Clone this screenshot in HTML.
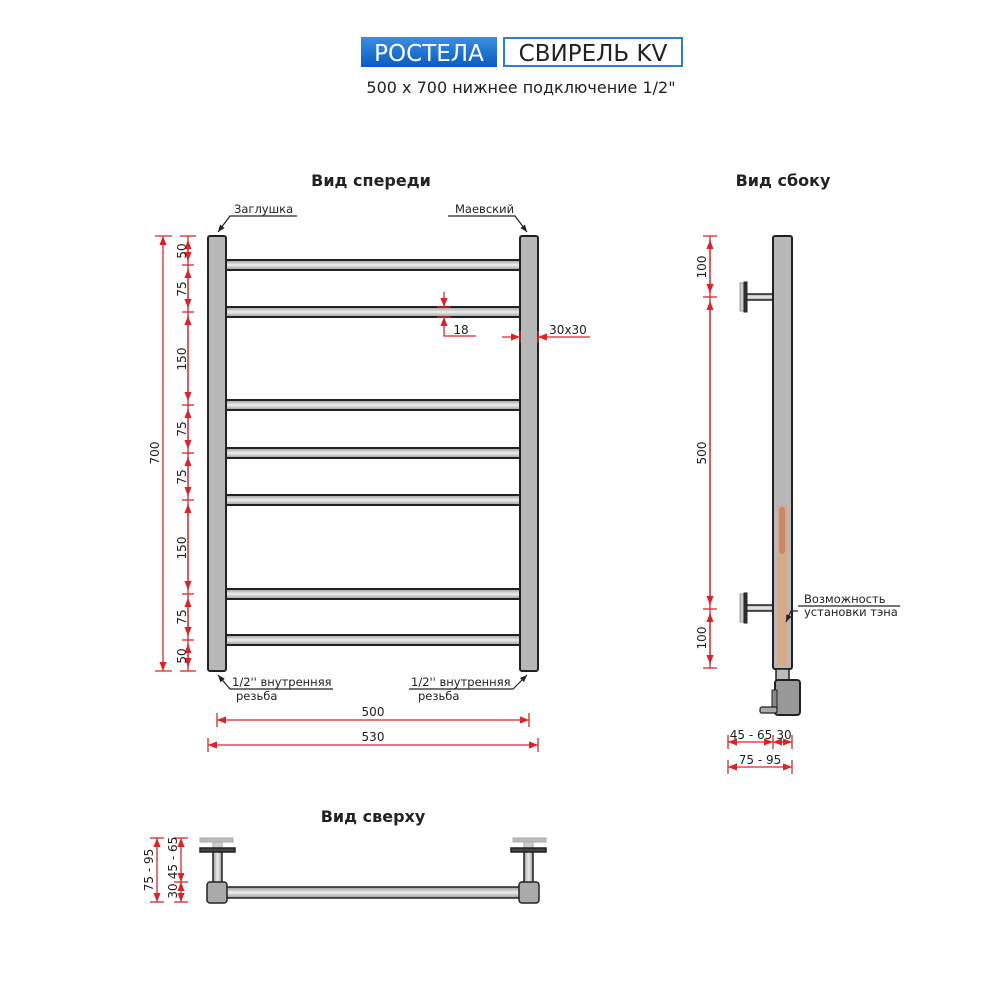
<!DOCTYPE html>
<html><head><meta charset="utf-8"><style>
html,body{margin:0;padding:0;background:#fff;}
svg{display:block;}
text{font-family:"DejaVu Sans","Liberation Sans",sans-serif;}
</style></head><body>
<svg width="1000" height="1000" viewBox="0 0 1000 1000" xmlns="http://www.w3.org/2000/svg">
<defs>
<linearGradient id="bl" x1="0" y1="0" x2="0" y2="1"><stop offset="0" stop-color="#3a8ee0"/><stop offset="1" stop-color="#0a5cc0"/></linearGradient>
<linearGradient id="bar" x1="0" y1="0" x2="0" y2="1"><stop offset="0" stop-color="#999"/><stop offset="0.5" stop-color="#eee"/><stop offset="1" stop-color="#999"/></linearGradient>
<linearGradient id="barv" x1="0" y1="0" x2="1" y2="0"><stop offset="0" stop-color="#999"/><stop offset="0.5" stop-color="#eee"/><stop offset="1" stop-color="#999"/></linearGradient>
<marker id="a" viewBox="0 0 10 10" refX="10" refY="5" markerWidth="7" markerHeight="7" orient="auto-start-reverse"><path d="M0,1 L10,5 L0,9 z" fill="#d9252a"/></marker>
<marker id="k" viewBox="0 0 10 10" refX="10" refY="5" markerWidth="6" markerHeight="6" orient="auto-start-reverse"><path d="M0,1 L10,5 L0,9 z" fill="#222"/></marker>
</defs>

<!-- Header -->
<rect x="361" y="37" width="136" height="30" fill="url(#bl)"/>
<text x="429" y="61" font-size="23" fill="#fff" text-anchor="middle" font-family="Liberation Sans">РОСТЕЛА</text>
<rect x="504" y="38" width="178" height="28" fill="#fff" stroke="#2f7fd0" stroke-width="2"/>
<text x="593" y="61" font-size="23" fill="#222" text-anchor="middle" font-family="Liberation Sans">СВИРЕЛЬ KV</text>
<text x="521" y="93" font-size="16" fill="#222" text-anchor="middle">500 x 700 нижнее подключение 1/2"</text>

<text x="371" y="186" font-size="16" font-weight="bold" fill="#222" text-anchor="middle">Вид спереди</text>
<text x="783" y="186" font-size="16" font-weight="bold" fill="#222" text-anchor="middle">Вид сбоку</text>
<text x="373" y="822" font-size="16" font-weight="bold" fill="#222" text-anchor="middle">Вид сверху</text>

<!-- Front view bars -->
<g stroke="#222" stroke-width="2" fill="url(#bar)">
<rect x="226" y="260" width="294" height="10"/>
<rect x="226" y="307" width="294" height="10"/>
<rect x="226" y="400" width="294" height="10"/>
<rect x="226" y="448" width="294" height="10"/>
<rect x="226" y="495" width="294" height="10"/>
<rect x="226" y="589" width="294" height="10"/>
<rect x="226" y="635" width="294" height="10"/>
</g>
<rect x="208" y="236" width="18" height="435" rx="2" fill="#b8b8b8" stroke="#222" stroke-width="2"/>
<rect x="520" y="236" width="18" height="435" rx="2" fill="#b8b8b8" stroke="#222" stroke-width="2"/>

<!-- leaders front -->
<g fill="none" stroke="#222" stroke-width="1.2">
<polyline points="297,216 230,216 218,232" marker-end="url(#k)"/>
<polyline points="448,216 515,216 527,232" marker-end="url(#k)"/>
<polyline points="333,689 230,689 218,675" marker-end="url(#k)"/>
<polyline points="409,689 513,689 527,675" marker-end="url(#k)"/>
</g>
<g font-size="11.5" fill="#222">
<text x="234" y="213">Заглушка</text>
<text x="455" y="213">Маевский</text>
<text x="232" y="686">1/2'' внутренняя</text>
<text x="236" y="700">резьба</text>
<text x="411" y="686">1/2'' внутренняя</text>
<text x="418" y="700">резьба</text>
</g>

<!-- Red dims front -->
<g stroke="#d9252a" stroke-width="1.3" fill="none">
<line x1="163" y1="236" x2="163" y2="671" marker-start="url(#a)" marker-end="url(#a)"/>
<line x1="155" y1="236" x2="172" y2="236"/><line x1="155" y1="671" x2="172" y2="671"/>
<line x1="188" y1="236" x2="188" y2="671"/>
<g>
<line x1="180" y1="236" x2="196" y2="236"/><line x1="180" y1="671" x2="196" y2="671"/>
<line x1="182" y1="265" x2="194" y2="265"/><line x1="182" y1="312" x2="194" y2="312"/>
<line x1="182" y1="405" x2="194" y2="405"/><line x1="182" y1="453" x2="194" y2="453"/>
<line x1="182" y1="500" x2="194" y2="500"/><line x1="182" y1="594" x2="194" y2="594"/>
<line x1="182" y1="640" x2="194" y2="640"/>
</g>
<line x1="188" y1="240" x2="188" y2="261" marker-start="url(#a)" marker-end="url(#a)"/>
<line x1="188" y1="269" x2="188" y2="308" marker-start="url(#a)" marker-end="url(#a)"/>
<line x1="188" y1="316" x2="188" y2="401" marker-start="url(#a)" marker-end="url(#a)"/>
<line x1="188" y1="409" x2="188" y2="449" marker-start="url(#a)" marker-end="url(#a)"/>
<line x1="188" y1="457" x2="188" y2="496" marker-start="url(#a)" marker-end="url(#a)"/>
<line x1="188" y1="504" x2="188" y2="590" marker-start="url(#a)" marker-end="url(#a)"/>
<line x1="188" y1="598" x2="188" y2="636" marker-start="url(#a)" marker-end="url(#a)"/>
<line x1="188" y1="644" x2="188" y2="667" marker-start="url(#a)" marker-end="url(#a)"/>
<!-- 18 -->
<line x1="444" y1="292" x2="444" y2="307" marker-end="url(#a)"/>
<line x1="444" y1="332" x2="444" y2="317" marker-end="url(#a)"/>
<line x1="437" y1="307" x2="451" y2="307"/><line x1="437" y1="317" x2="451" y2="317"/>
<polyline points="444,332 444,336 476,336"/>
<!-- 30x30 -->
<line x1="502" y1="337" x2="520" y2="337" marker-end="url(#a)"/>
<line x1="590" y1="337" x2="538" y2="337" marker-end="url(#a)"/>
<line x1="520" y1="331" x2="520" y2="343"/><line x1="538" y1="331" x2="538" y2="343"/>
<!-- bottom -->
<line x1="217" y1="720" x2="529" y2="720" marker-start="url(#a)" marker-end="url(#a)"/>
<line x1="217" y1="713" x2="217" y2="727"/><line x1="529" y1="713" x2="529" y2="727"/>
<line x1="208" y1="745" x2="538" y2="745" marker-start="url(#a)" marker-end="url(#a)"/>
<line x1="208" y1="738" x2="208" y2="752"/><line x1="538" y1="738" x2="538" y2="752"/>
</g>
<g font-size="12" fill="#222" text-anchor="middle">
<text transform="translate(159,453) rotate(-90)">700</text>
<text transform="translate(186,251) rotate(-90)">50</text>
<text transform="translate(186,289) rotate(-90)">75</text>
<text transform="translate(186,359) rotate(-90)">150</text>
<text transform="translate(186,429) rotate(-90)">75</text>
<text transform="translate(186,477) rotate(-90)">75</text>
<text transform="translate(186,548) rotate(-90)">150</text>
<text transform="translate(186,617) rotate(-90)">75</text>
<text transform="translate(186,656) rotate(-90)">50</text>
<text x="461" y="334">18</text>
<text x="568" y="334">30x30</text>
<text x="373" y="716">500</text>
<text x="373" y="741">530</text>
</g>

<!-- Side view -->
<g stroke="#222" stroke-width="2">
<rect x="740" y="283" width="5" height="28" fill="#ccc" stroke="#999" stroke-width="1"/>
<rect x="745" y="294" width="28" height="6" fill="url(#bar)" stroke-width="1.5"/>
<rect x="744" y="282" width="3" height="30" fill="#333" stroke-width="1"/>
<rect x="740" y="594" width="5" height="28" fill="#ccc" stroke="#999" stroke-width="1"/>
<rect x="745" y="605" width="28" height="6" fill="url(#bar)" stroke-width="1.5"/>
<rect x="744" y="593" width="3" height="30" fill="#333" stroke-width="1"/>
<rect x="773" y="236" width="19" height="433" rx="2" fill="#b8b8b8"/>
<rect x="776" y="669" width="13" height="11" fill="#bbb" stroke-width="1.5"/>
<rect x="775" y="680" width="25" height="35" rx="3" fill="#999"/>
<rect x="772" y="690" width="5" height="18" fill="#888" stroke-width="1"/>
<rect x="760" y="707" width="17" height="6" rx="2" fill="#aaa" stroke-width="1.2"/>
</g>
<rect x="777" y="505" width="10" height="160" fill="#d7a88a"/>
<rect x="779" y="507" width="6" height="47" rx="3" fill="#c8866a"/>
<polyline points="798,611 791,611 786,622" fill="none" stroke="#222" stroke-width="1.2" marker-end="url(#k)"/>
<line x1="798" y1="606" x2="900" y2="606" stroke="#222" stroke-width="1.2"/>
<text x="804" y="603" font-size="11.5" fill="#222">Возможность</text>
<text x="804" y="616" font-size="11.5" fill="#222">установки тэна</text>

<g stroke="#d9252a" stroke-width="1.3" fill="none">
<line x1="710" y1="236" x2="710" y2="668"/>
<line x1="703" y1="236" x2="717" y2="236"/><line x1="703" y1="297" x2="717" y2="297"/>
<line x1="703" y1="609" x2="717" y2="609"/><line x1="703" y1="668" x2="717" y2="668"/>
<line x1="710" y1="240" x2="710" y2="293" marker-start="url(#a)" marker-end="url(#a)"/>
<line x1="710" y1="301" x2="710" y2="605" marker-start="url(#a)" marker-end="url(#a)"/>
<line x1="710" y1="613" x2="710" y2="664" marker-start="url(#a)" marker-end="url(#a)"/>
<line x1="728" y1="742" x2="773" y2="742" marker-start="url(#a)" marker-end="url(#a)"/>
<line x1="773" y1="742" x2="792" y2="742" marker-start="url(#a)" marker-end="url(#a)"/>
<line x1="728" y1="735" x2="728" y2="749"/><line x1="773" y1="735" x2="773" y2="749"/><line x1="792" y1="735" x2="792" y2="749"/>
<line x1="728" y1="767" x2="792" y2="767" marker-start="url(#a)" marker-end="url(#a)"/>
<line x1="728" y1="760" x2="728" y2="774"/><line x1="792" y1="760" x2="792" y2="774"/>
</g>
<g font-size="12" fill="#222" text-anchor="middle">
<text transform="translate(706,267) rotate(-90)">100</text>
<text transform="translate(706,453) rotate(-90)">500</text>
<text transform="translate(706,638) rotate(-90)">100</text>
<text x="751" y="739">45 - 65</text>
<text x="784" y="739">30</text>
<text x="760" y="764">75 - 95</text>
</g>

<!-- Top view -->
<g stroke="#222" stroke-width="1.5">
<rect x="226" y="887" width="294" height="11" fill="url(#bar)"/>
<rect x="200" y="838" width="33" height="4" fill="#bbb" stroke="#aaa" stroke-width="1"/>
<rect x="213" y="842" width="9" height="6" fill="#ccc" stroke="#aaa" stroke-width="1"/>
<rect x="200" y="848" width="35" height="4" fill="#444"/>
<rect x="213" y="852" width="9" height="31" fill="url(#barv)"/>
<rect x="207" y="882" width="20" height="21" rx="3" fill="#aaa"/>
<rect x="513" y="838" width="33" height="4" fill="#bbb" stroke="#aaa" stroke-width="1"/>
<rect x="524" y="842" width="9" height="6" fill="#ccc" stroke="#aaa" stroke-width="1"/>
<rect x="511" y="848" width="35" height="4" fill="#444"/>
<rect x="524" y="852" width="9" height="31" fill="url(#barv)"/>
<rect x="519" y="882" width="20" height="21" rx="3" fill="#aaa"/>
</g>
<g stroke="#d9252a" stroke-width="1.3" fill="none">
<line x1="157" y1="838" x2="157" y2="902" marker-start="url(#a)" marker-end="url(#a)"/>
<line x1="150" y1="838" x2="164" y2="838"/><line x1="150" y1="902" x2="164" y2="902"/>
<line x1="181" y1="838" x2="181" y2="882" marker-start="url(#a)" marker-end="url(#a)"/>
<line x1="181" y1="882" x2="181" y2="902" marker-start="url(#a)" marker-end="url(#a)"/>
<line x1="174" y1="838" x2="188" y2="838"/><line x1="174" y1="882" x2="188" y2="882"/><line x1="174" y1="902" x2="188" y2="902"/>
</g>
<g font-size="12" fill="#222" text-anchor="middle">
<text transform="translate(153,870) rotate(-90)">75 - 95</text>
<text transform="translate(177,858) rotate(-90)">45 - 65</text>
<text transform="translate(177,891) rotate(-90)">30</text>
</g>
</svg>
</body></html>
